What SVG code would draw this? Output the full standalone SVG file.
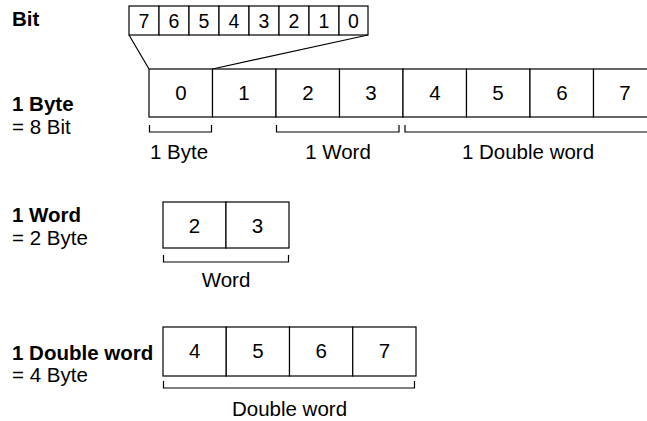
<svg xmlns="http://www.w3.org/2000/svg" width="647" height="421" viewBox="0 0 647 421">
<style>
text{font-family:"Liberation Sans",Arial,sans-serif;font-size:20.5px;fill:#000}
.b{font-weight:bold}
.c{text-anchor:middle}
.s{font-size:19.5px}
.cell{fill:#fff;stroke:#000;stroke-width:1.2}
.ln{fill:none;stroke:#000;stroke-width:1.2}
</style>
<rect width="647" height="421" fill="#fff"/>
<g id="labels">
<text class="b" x="12" y="26">Bit</text>
<text class="b" x="12" y="111">1 Byte</text>
<text x="12" y="134">= 8 Bit</text>
<text class="b" x="12" y="222">1 Word</text>
<text x="12" y="245">= 2 Byte</text>
<text class="b" x="12" y="360">1 Double word</text>
<text x="12" y="382">= 4 Byte</text>
</g>
<g id="bits">
<rect class="cell" x="129" y="6" width="30" height="29"/>
<rect class="cell" x="159" y="6" width="30" height="29"/>
<rect class="cell" x="189" y="6" width="30" height="29"/>
<rect class="cell" x="219" y="6" width="30" height="29"/>
<rect class="cell" x="249" y="6" width="30" height="29"/>
<rect class="cell" x="279" y="6" width="30" height="29"/>
<rect class="cell" x="309" y="6" width="30" height="29"/>
<rect class="cell" x="339" y="6" width="29" height="29"/>
<text class="c s" x="144" y="28">7</text>
<text class="c s" x="174" y="28">6</text>
<text class="c s" x="204" y="28">5</text>
<text class="c s" x="234" y="28">4</text>
<text class="c s" x="264" y="28">3</text>
<text class="c s" x="294" y="28">2</text>
<text class="c s" x="324" y="28">1</text>
<text class="c s" x="353.5" y="28">0</text>
</g>
<g id="connectors">
<path class="ln" d="M129,35 L149,69 M368,35 L212.5,69"/>
</g>
<g id="bytes">
<rect class="cell" x="149" y="69" width="63.5" height="48"/>
<rect class="cell" x="212.5" y="69" width="63.5" height="48"/>
<rect class="cell" x="276" y="69" width="63.5" height="48"/>
<rect class="cell" x="339.5" y="69" width="63.5" height="48"/>
<rect class="cell" x="403" y="69" width="63.5" height="48"/>
<rect class="cell" x="466.5" y="69" width="63.5" height="48"/>
<rect class="cell" x="530" y="69" width="63.5" height="48"/>
<rect class="cell" x="593.5" y="69" width="63.5" height="48"/>
<text class="c" x="181" y="100">0</text>
<text class="c" x="244" y="100">1</text>
<text class="c" x="308" y="100">2</text>
<text class="c" x="371" y="100">3</text>
<text class="c" x="435" y="100">4</text>
<text class="c" x="498" y="100">5</text>
<text class="c" x="562" y="100">6</text>
<text class="c" x="625" y="100">7</text>
</g>
<g id="byte-brackets">
<path class="ln" d="M149.5,125 V132 H211.5 V125 M276.5,125 V132 H399 V125 M405,125 V132 H650"/>
<text class="c" x="179" y="159">1 Byte</text>
<text class="c" x="338" y="159">1 Word</text>
<text class="c" x="528" y="159">1 Double word</text>
</g>
<g id="word">
<rect class="cell" x="163" y="202" width="63" height="46"/>
<rect class="cell" x="226" y="202" width="63" height="46"/>
<text class="c" x="194.5" y="233">2</text>
<text class="c" x="257.5" y="233">3</text>
<path class="ln" d="M163.5,255 V262 H288.5 V255"/>
<text class="c" x="226" y="287">Word</text>
</g>
<g id="dword">
<rect class="cell" x="163" y="327" width="63.25" height="49"/>
<rect class="cell" x="226.25" y="327" width="63.25" height="49"/>
<rect class="cell" x="289.5" y="327" width="63.25" height="49"/>
<rect class="cell" x="352.75" y="327" width="63.25" height="49"/>
<text class="c" x="194.6" y="358">4</text>
<text class="c" x="257.9" y="358">5</text>
<text class="c" x="321.1" y="358">6</text>
<text class="c" x="384.4" y="358">7</text>
<path class="ln" d="M163.5,381 V388 H414.5 V381"/>
<text class="c" x="289.5" y="416">Double word</text>
</g>
</svg>
